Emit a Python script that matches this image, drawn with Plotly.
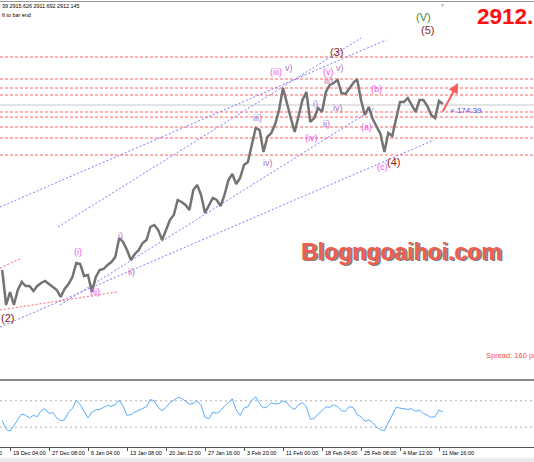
import plotly.graph_objects as go

# ---------------- data ----------------
tick_bars = [0, 120, 240, 360, 480, 600, 720, 840, 960, 1080, 1200, 1320]
tick_labels = ["19 Dec 04:00", "27 Dec 08:00", "6 Jan 04:00", "13 Jan 08:00",
               "20 Jan 12:00", "27 Jan 16:00", "3 Feb 20:00", "11 Feb 00:00",
               "18 Feb 04:00", "25 Feb 08:00", "4 Mar 12:00", "11 Mar 16:00"]

bar_start = -24
bar_step = 12
close = [2648.0, 2592.0, 2612.8, 2592.0, 2616.0, 2628.8, 2622.4, 2622.4, 2614.4, 2622.4,
         2627.2, 2630.4, 2625.6, 2620.8, 2616.0, 2604.8, 2617.6, 2625.6, 2636.8, 2659.2,
         2657.6, 2638.4, 2640.0, 2612.8, 2636.8, 2648.0, 2649.6, 2656.0, 2660.8, 2668.8,
         2699.2, 2692.8, 2680.0, 2664.0, 2673.6, 2680.0, 2691.2, 2696.0, 2716.8, 2720.0,
         2712.0, 2696.0, 2712.0, 2728.0, 2736.0, 2760.0, 2756.8, 2752.0, 2744.0, 2776.0,
         2784.0, 2768.0, 2739.2, 2752.0, 2763.2, 2760.0, 2750.4, 2768.0, 2792.0, 2801.6,
         2785.6, 2795.2, 2816.0, 2820.8, 2848.0, 2875.2, 2872.0, 2836.8, 2860.8, 2867.2,
         2881.6, 2904.0, 2939.2, 2913.6, 2891.2, 2868.8, 2896.0, 2920.0, 2932.8, 2884.8,
         2891.2, 2907.2, 2900.8, 2932.8, 2944.0, 2947.2, 2952.0, 2931.2, 2929.6, 2939.2,
         2947.2, 2953.6, 2920.0, 2896.0, 2908.8, 2889.6, 2876.8, 2865.6, 2836.8, 2867.2,
         2862.4, 2888.0, 2916.8, 2916.8, 2923.2, 2912.0, 2900.8, 2920.0, 2920.0, 2910.4,
         2896.0, 2891.2, 2918.4, 2913.6]

rsi = [40, 27, 24, 32, 42, 50, 48, 44, 48, 46,
       55, 58, 51, 52, 44, 40, 41, 53, 58, 71,
       64, 53, 44, 53, 56, 57, 60, 63, 62, 64,
       71, 62, 48, 49, 53, 56, 59, 61, 72, 70,
       60, 55, 60, 67, 71, 75, 74, 70, 65, 66,
       70, 63, 45, 43, 53, 51, 55, 62, 68, 73,
       56, 48, 59, 61, 71, 76, 66, 59, 61, 67,
       65, 66, 70, 67, 60, 57, 64, 67, 61, 42,
       43, 50, 55, 61, 60, 64, 61, 55, 54, 61,
       60, 49, 46, 39, 41, 37, 30, 26, 25, 37,
       47, 60, 59, 58, 57, 58, 54, 56, 51, 48,
       45, 46, 56, 53]
rsi_levels = [70, 30]

bid_price = 2912.0
level_prices = [2988.8, 2953.6, 2939.2, 2928.0, 2900.8, 2892.8, 2876.8, 2859.2, 2832.0]

# channel lines: (bar0, price0, bar1, price1)
blue_lines = [(-30.8, 2748.8, 1156.9, 3016.0),
              (147.7, 2716.8, 1080.0, 3019.2),
              (-30.8, 2556.8, 1304.6, 2856.0),
              (153.8, 2592.0, 1123.1, 2907.2)]
red_lines = [(-30.8, 2651.2, 36.9, 2667.2),
             (-30.8, 2584.0, 329.2, 2612.8)]

# wave labels: (text, bar, price, style)
wave_labels = [
    ("(V)", 1273.8, 3052.8, "green"),
    ("(5)", 1283.1, 3032.0, "major"),
    ("(3)", 1003.1, 2996.8, "major"),
    ("(4)", 1181.5, 2820.8, "major"),
    ("(2)", -6.2, 2571.2, "major"),
    ("(iii)", 818.5, 2964.8, "inter"),
    ("(v)", 981.5, 2964.8, "inter"),
    ("(b)", 1126.2, 2937.6, "inter"),
    ("(a)", 1095.4, 2876.8, "inter"),
    ("(iv)", 926.2, 2859.2, "inter"),
    ("(c)", 1144.6, 2812.8, "inter"),
    ("(i)", 209.2, 2676.8, "inter"),
    ("(ii)", 261.5, 2612.8, "inter"),
    ("v)", 858.5, 2971.2, "minor"),
    ("v)", 1015.4, 2971.2, "minor"),
    ("iii)", 981.5, 2950.4, "minor"),
    ("i)", 941.5, 2913.6, "minor"),
    ("ii)", 972.3, 2881.6, "minor"),
    ("iv)", 1009.2, 2907.2, "minor"),
    ("iii)", 760.0, 2891.2, "minor"),
    ("iv)", 793.8, 2819.2, "minor"),
    ("i)", 341.5, 2702.4, "minor"),
    ("ii)", 372.3, 2644.8, "minor"),
]
label_styles = {
    "green": dict(color="#3a8a3a", size=11),
    "major": dict(color="#8b1c1c", size=11),
    "inter": dict(color="#ee55ee", size=9),
    "minor": dict(color="#b070c8", size=9),
}

arrow_tail = (1329.2, 2899.2)
arrow_head = (1378.5, 2947.2)
timer_text = "174:39"
timer_pos = (1347.7, 2904.0)

# ---------------- figure ----------------
W, H = 534, 462
FONT = "Liberation Sans, Arial, sans-serif"
bars = [bar_start + bar_step * i for i in range(len(close))]
xr = [-30.77, 1612.3]

fig = go.Figure()

for b0, p0, b1, p1 in blue_lines:
    fig.add_trace(go.Scatter(x=[b0, b1], y=[p0, p1], mode="lines", xaxis="x", yaxis="y",
                             line=dict(color="#7c7cff", width=1, dash="2px,2px"),
                             hoverinfo="skip"))
for b0, p0, b1, p1 in red_lines:
    fig.add_trace(go.Scatter(x=[b0, b1], y=[p0, p1], mode="lines", xaxis="x", yaxis="y",
                             line=dict(color="#ff6a6a", width=1, dash="2px,2px"),
                             hoverinfo="skip"))

fig.add_trace(go.Scatter(x=bars, y=close, mode="lines", xaxis="x", yaxis="y",
                         line=dict(color="#737373", width=2.5), hoverinfo="skip"))

fig.add_trace(go.Scatter(x=bars, y=rsi, mode="lines", xaxis="x2", yaxis="y2",
                         line=dict(color="#5aaaff", width=1), hoverinfo="skip"))

shapes = []
for lv in level_prices:
    shapes.append(dict(type="line", xref="paper", x0=0, x1=1, yref="y", y0=lv, y1=lv,
                       line=dict(color="#ff6060", width=1, dash="3px,2px"), layer="below"))
shapes.append(dict(type="line", xref="paper", x0=0, x1=1, yref="y", y0=bid_price, y1=bid_price,
                   line=dict(color="#c8c8c8", width=1), layer="below"))
for lv in rsi_levels:
    shapes.append(dict(type="line", xref="paper", x0=0, x1=1, yref="y2", y0=lv, y1=lv,
                       line=dict(color="#b0b0b0", width=1, dash="2px,3px"), layer="below"))
# frame lines
shapes.append(dict(type="line", xref="paper", yref="paper", x0=0, x1=1,
                   y0=1 - 1.5 / H, y1=1 - 1.5 / H, line=dict(color="#9a9a9a", width=1)))
shapes.append(dict(type="line", xref="paper", yref="paper", x0=0, x1=1,
                   y0=1 - 380 / H, y1=1 - 380 / H, line=dict(color="#8a8a8a", width=2)))
shapes.append(dict(type="rect", xref="paper", yref="paper", x0=0, x1=1,
                   y0=0, y1=4 / H, fillcolor="#ececec", line=dict(width=0)))

ann = []
for text, b, p, st in wave_labels:
    s = label_styles[st]
    ann.append(dict(x=b, y=p, xref="x", yref="y", text=text, showarrow=False,
                    font=dict(family=FONT, size=s["size"], color=s["color"])))

ann.append(dict(x=arrow_head[0], y=arrow_head[1], ax=arrow_tail[0], ay=arrow_tail[1],
                xref="x", yref="y", axref="x", ayref="y", text="", showarrow=True,
                arrowhead=2, arrowsize=1, arrowwidth=2, arrowcolor="#ff5a5a"))
ann.append(dict(x=timer_pos[0], y=timer_pos[1], xref="x", yref="y", text="× " + timer_text,
                xanchor="left", showarrow=False,
                font=dict(family=FONT, size=8, color="#4a4aff")))

# time axis labels (MT4 style, to the right of the tick)
for tb, tl in zip(tick_bars, tick_labels):
    ann.append(dict(x=tb, y=1 - 453 / H, xref="x2", yref="paper", text=tl, xanchor="left",
                    yanchor="middle", xshift=1, showarrow=False,
                    font=dict(family=FONT, size=5.5, color="#000000")))
ann.append(dict(x=4 / W, y=1 - 453 / H, xref="paper", yref="paper", text="12 Dec 00:00",
                xanchor="right", yanchor="middle", showarrow=False,
                font=dict(family=FONT, size=5.5, color="#000000")))

# header texts
ann.append(dict(x=0, y=1 - 6 / H, xref="paper", yref="paper", xanchor="left", yanchor="middle",
                text="39 2915.626 2911.692 2912.145", showarrow=False,
                font=dict(family=FONT, size=5.4, color="#000000")))
ann.append(dict(x=0, y=1 - 15 / H, xref="paper", yref="paper", xanchor="left", yanchor="middle",
                text="ft to bar end", showarrow=False,
                font=dict(family=FONT, size=5.4, color="#000000")))
ann.append(dict(x=475 / W, y=1 - 16 / H, xref="paper", yref="paper", xanchor="left",
                yanchor="middle", text="<b>2912.14</b>", showarrow=False,
                font=dict(family=FONT, size=22.5, color="#ff1010")))
ann.append(dict(x=442 / W, y=1, xref="paper", yref="paper", xanchor="center", yanchor="top",
                text="▼", showarrow=False, font=dict(family=FONT, size=5, color="#b0b0b0")))
ann.append(dict(x=484 / W, y=1 - 355 / H, xref="paper", yref="paper", xanchor="left",
                yanchor="middle", text="Spread: 160 points", showarrow=False,
                font=dict(family=FONT, size=7.5, color="#ff5050")))

# watermark with shadow
for dx, dy, col in [(1.5, -1.5, "#808080"), (0, 0, "#f25c4c")]:
    ann.append(dict(x=401.5 / W, y=1 - 252 / H, xref="paper", yref="paper", xanchor="center",
                    yanchor="middle", text="<b>Blogngoaihoi.com</b>", showarrow=False,
                    xshift=dx, yshift=dy,
                    font=dict(family=FONT, size=23, color=col)))

fig.update_layout(
    width=W, height=H, margin=dict(l=0, r=0, t=0, b=0),
    paper_bgcolor="white", plot_bgcolor="white", showlegend=False,
    xaxis=dict(domain=[0, 1], range=xr, visible=False, anchor="y"),
    yaxis=dict(domain=[1 - 379 / H, 1], range=[3080 - 1.6 * 379, 3080], visible=False),
    xaxis2=dict(domain=[0, 1], range=xr, anchor="y2", showline=True, linecolor="#555555",
                linewidth=1, ticks="outside", ticklen=3, tickcolor="#555555",
                tickvals=tick_bars, showticklabels=False, showgrid=False, zeroline=False),
    yaxis2=dict(domain=[1 - 447 / H, 1 - 381 / H], range=[0, 100], visible=False),
    shapes=shapes, annotations=ann,
)

fig.write_html("out.html", config={"displayModeBar": False},
               post_script="document.body.style.margin='0';document.body.style.padding='0';"
                           "document.body.style.overflow='hidden';")
